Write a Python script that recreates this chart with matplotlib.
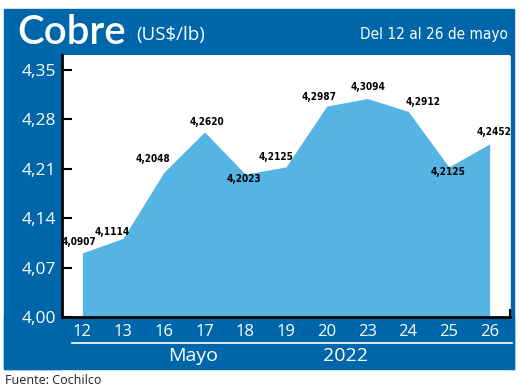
import matplotlib.pyplot as plt
from matplotlib.patches import Rectangle

# data
days = ["12", "13", "16", "17", "18", "19", "20", "23", "24", "25", "26"]
prices = [4.0907, 4.1114, 4.2048, 4.2620, 4.2023, 4.2125, 4.2987, 4.3094, 4.2912, 4.2125, 4.2452]
yticks = [4.00, 4.07, 4.14, 4.21, 4.28, 4.35]

# label centre offsets (points) for value annotations
label_off = [(-2.2, 7.9), (-7.9, 4.3), (-7.9, 9.7), (1.4, 7.2), (-0.7, -3.6), (-7.2, 7.2),
             (-5.8, 6.5), (0.7, 8.3), (10.8, 6.8), (-0.7, -3.6), (3.5, 8.6)]

dark = "#0066AA"
light = "#55B4E3"
W, H = 520, 391

fig = plt.figure(figsize=(5.2, 3.91), dpi=100, facecolor="white")

def px(x0, y0, x1, y1):
    # pixel box (top-left origin) -> figure coords
    return (x0 / W, 1 - y1 / H, (x1 - x0) / W, (y1 - y0) / H)

# blue frame pieces
for box in [px(4, 9, 514, 55), px(4, 55, 62, 369), px(4, 317, 514, 369), px(511, 55, 514, 369)]:
    x, y, w, h = box
    fig.patches.append(Rectangle((x, y), w, h, transform=fig.transFigure, color=dark, zorder=-1))

ax = fig.add_axes(px(62, 55, 510, 317))
ax.set_facecolor("white")

x = list(range(len(days)))
ax.fill_between(x, prices, 4.0, color=light, linewidth=0)
ax.set_xlim(-0.5, len(days) - 0.5)
ax.set_ylim(4.0, 4.371)

for i, v in enumerate(prices):
    ax.annotate(f"{v:.4f}".replace(".", ","), (i, v), xytext=label_off[i], textcoords="offset points",
                ha="center", va="center", fontsize=7.2, color="black", family="DejaVu Sans",
                fontstretch="condensed", fontweight="bold")

ax.set_yticks(yticks)
ax.set_yticklabels([f"{t:.2f}".replace(".", ",") for t in yticks], color="white", fontsize=12.5, family="Open Sans")
ax.tick_params(axis="y", direction="in", length=7, width=1.5, pad=4)
ax.set_xticks(x)
ax.set_xticklabels(days, color="white", fontsize=12, family="Open Sans")
ax.tick_params(axis="x", length=0, pad=5)

for s in ["top", "right"]:
    ax.spines[s].set_visible(False)
ax.spines["left"].set_linewidth(2)
ax.spines["bottom"].set_linewidth(2)
ax.plot([1, 1], [0, 0.025], transform=ax.transAxes, color="black", lw=1.5, clip_on=False)

# white line and bottom labels
fig.add_artist(plt.Line2D([72 / W, 512 / W], [1 - 343 / H] * 2, color="white", lw=1.2))
fig.text(193 / W, 1 - 356 / H, "Mayo", color="white", fontsize=14, ha="center", va="center", family="Open Sans")
fig.text(345 / W, 1 - 356 / H, "2022", color="white", fontsize=14, ha="center", va="center", family="Open Sans")

# header
fig.text(17 / W, 1 - 33 / H, "Cobre", color="white", fontsize=29, ha="left", va="center", family="Lato",
         fontweight="semibold")
fig.text(136 / W, 1 - 35 / H, "(US$/lb)", color="white", fontsize=13.5, ha="left", va="center", family="Open Sans")
fig.text(508 / W, 1 - 35 / H, "Del 12 al 26 de mayo", color="white", fontsize=11, ha="right", va="center",
         family="DejaVu Sans", fontstretch="condensed")

fig.text(5 / W, 1 - 380 / H, "Fuente: Cochilco", color="#222222", fontsize=9, ha="left", va="center", family="Open Sans")

fig.savefig("out.png", dpi=100, facecolor="white")
